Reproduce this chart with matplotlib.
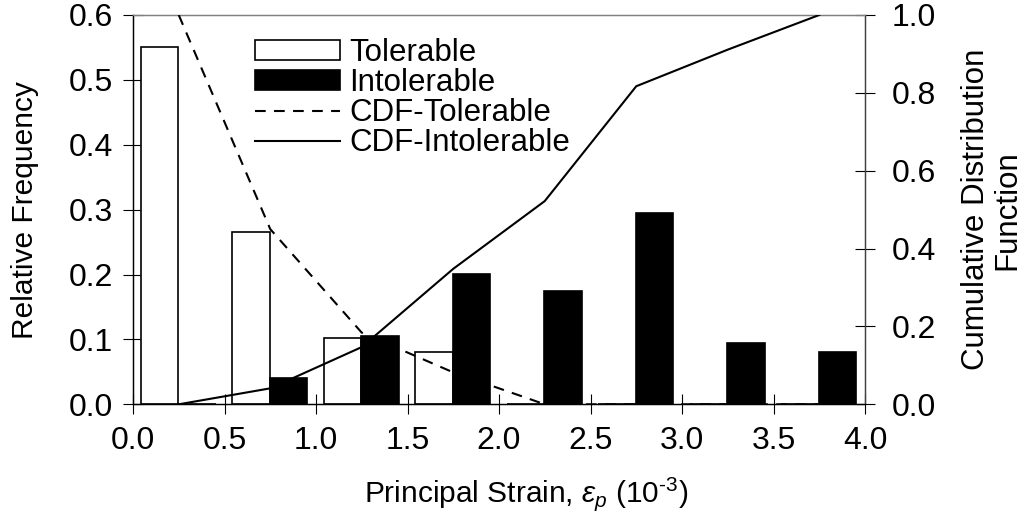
import matplotlib
matplotlib.use("Agg")
import matplotlib.pyplot as plt
from matplotlib.patches import Patch
from matplotlib.lines import Line2D

plt.rcParams["font.family"] = ["Liberation Sans", "DejaVu Sans"]
plt.rcParams["mathtext.fontset"] = "custom"
plt.rcParams["mathtext.rm"] = "Liberation Sans"
plt.rcParams["mathtext.it"] = "Liberation Sans:italic"
plt.rcParams["lines.scale_dashes"] = False

# Strain bins (left edges, 10^-3) and relative frequencies per group
bin_left = [0.0, 0.5, 1.0, 1.5, 2.0, 2.5, 3.0, 3.5]
freq_tolerable = [0.550, 0.266, 0.102, 0.081, 0.0, 0.0, 0.0, 0.0]
freq_intolerable = [0.0, 0.041, 0.106, 0.201, 0.174, 0.295, 0.094, 0.081]

# Cumulative curves evaluated at bin mid-points
cdf_x = [0.25, 0.75, 1.25, 1.75, 2.25, 2.75, 3.25, 3.75]
cdf_tolerable = [1.0, 0.45, 0.184, 0.082, 0.0, 0.0, 0.0, 0.0]
cdf_intolerable = [0.0, 0.041, 0.147, 0.348, 0.522, 0.817, 0.911, 1.0]

x_ticks = [0.0, 0.5, 1.0, 1.5, 2.0, 2.5, 3.0, 3.5, 4.0]
left_ticks = [0.0, 0.1, 0.2, 0.3, 0.4, 0.5, 0.6]
right_ticks = [0.0, 0.2, 0.4, 0.6, 0.8, 1.0]

FS_TICK = 23
FS_LABEL = 21.5
FS_LEG = 22.5
bar_w = 0.205

fig = plt.figure(figsize=(10.29, 5.27), dpi=100)
ax = fig.add_axes([133 / 1029, 1 - 404.3 / 527, 732 / 1029, 389.3 / 527])
ax2 = ax.twinx()

tol_x = [b + 0.042 for b in bin_left]
int_x = [b + 0.247 for b in bin_left]
ax.bar(tol_x, freq_tolerable, width=bar_w, align="edge",
       facecolor="white", edgecolor="black", linewidth=1.2, zorder=2)
ax.bar(int_x, freq_intolerable, width=bar_w, align="edge",
       facecolor="black", edgecolor="black", linewidth=1.2, zorder=2)

ax.set_xlim(0, 4.0)
ax.set_ylim(0, 0.6)
ax.set_xticks(x_ticks)
ax.set_xticklabels([f"{v:.1f}" for v in x_ticks])
ax.set_yticks(left_ticks)
ax.set_yticklabels([f"{v:.1f}" for v in left_ticks])

ax2.plot(cdf_x, cdf_tolerable, color="black", linewidth=1.5,
         linestyle=(0, (7.7, 6.0)), zorder=3)
ax2.plot(cdf_x, cdf_intolerable, color="black", linewidth=1.5, zorder=3)
ax2.set_ylim(0, 1.0)
ax2.set_yticks(right_ticks)
ax2.set_yticklabels([f"{v:.1f}" for v in right_ticks])

for a in (ax, ax2):
    a.tick_params(direction="inout", length=15, width=0.8, labelsize=FS_TICK,
                  colors="black")
    for s in a.spines.values():
        s.set_linewidth(0.9)
        s.set_color("black")
    a.spines["top"].set_color("#808080")
    a.spines["right"].set_color("#404040")
ax.tick_params(axis="y", pad=7)
ax.tick_params(axis="x", pad=8)
ax2.tick_params(axis="y", pad=12)

ax.set_ylabel("Relative Frequency", fontsize=FS_LABEL, labelpad=21)
ax2.set_ylabel("Cumulative Distribution\nFunction", fontsize=22.5,
               labelpad=18, linespacing=1.05)
ax.set_xlabel("Principal Strain, $\\varepsilon_p$ (10$^{\u20103}$)",
              fontsize=FS_LABEL)
ax.xaxis.set_label_coords(0.537, -0.182)

handles = [
    Patch(facecolor="white", edgecolor="black", linewidth=1.2),
    Patch(facecolor="black", edgecolor="black", linewidth=1.2),
    Line2D([], [], color="black", linewidth=1.5, linestyle=(0, (7.7, 6.0))),
    Line2D([], [], color="black", linewidth=1.5),
]
labels = ["Tolerable", "Intolerable", "CDF-Tolerable", "CDF-Intolerable"]
leg = ax2.legend(handles, labels, loc="upper left",
                 bbox_to_anchor=(0.163, 0.948), borderaxespad=0,
                 borderpad=0.1, handlelength=2.7, handleheight=0.6,
                 handletextpad=0.3, labelspacing=0.0, fontsize=FS_LEG,
                 frameon=True, fancybox=False, framealpha=1)
leg.get_frame().set_facecolor("white")
leg.get_frame().set_edgecolor("none")

fig.savefig("out.png", dpi=100, facecolor="white")
